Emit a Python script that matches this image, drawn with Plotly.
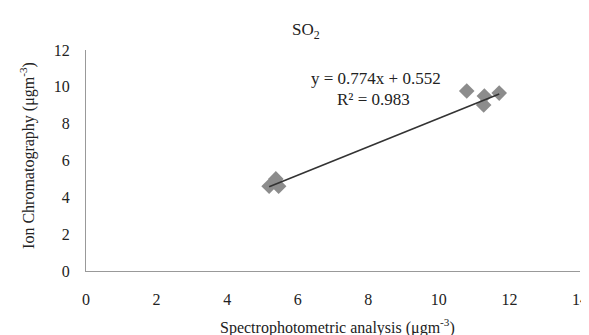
import numpy as np
import plotly.graph_objects as go

# Data
spectro_x = [5.19, 5.38, 5.46, 10.79, 11.27, 11.29, 11.71]
ion_y = [4.6, 5.0, 4.6, 9.77, 9.01, 9.5, 9.66]
slope = 0.774
intercept = 0.552
r_squared = 0.983

x_ticks = [0, 2, 4, 6, 8, 10, 12, 14]
y_ticks = [0, 2, 4, 6, 8, 10, 12]

FONT = "Liberation Serif"
TXT = "#222222"

fig = go.Figure()

fig.add_trace(go.Scatter(
    x=spectro_x, y=ion_y, mode="markers",
    marker=dict(symbol="diamond", size=12, color="#8c8c8c"),
    showlegend=False, hoverinfo="x+y"))

xl = np.array([min(spectro_x), max(spectro_x)])
fig.add_trace(go.Scatter(
    x=xl, y=slope * xl + intercept, mode="lines",
    line=dict(color="#333333", width=1.6), showlegend=False, hoverinfo="skip"))

fig.update_layout(
    width=589, height=335,
    margin=dict(l=78, r=9, t=42, b=72),
    paper_bgcolor="white", plot_bgcolor="white",
    font=dict(family=FONT, size=16, color=TXT),
    xaxis=dict(range=[0, 14], tickvals=x_ticks, showgrid=False, zeroline=False,
               showline=True, linecolor="#999999", linewidth=1, ticks="",
               ticklabelstandoff=14, tickfont=dict(size=16, family=FONT, color=TXT)),
    yaxis=dict(range=[0, 12], tickvals=y_ticks, showgrid=False, zeroline=False,
               showline=True, linecolor="#999999", linewidth=1, ticks="",
               ticklabelstandoff=12, tickfont=dict(size=16, family=FONT, color=TXT)),
    annotations=[
        dict(text="SO<sub>2</sub>", xref="paper", yref="paper", x=0.446, y=1.086,
             showarrow=False, font=dict(size=17, family=FONT, color=TXT),
             xanchor="center", yanchor="middle"),
        dict(text="Spectrophotometric analysis (μgm<sup>-3</sup>)", xref="paper", yref="paper",
             x=0.51, y=-0.25, showarrow=False, xanchor="center", yanchor="middle",
             font=dict(size=16, family=FONT, color=TXT)),
        dict(text="Ion Chromatography (μgm<sup>-3</sup>)", xref="paper", yref="paper",
             x=-0.1175, y=0.525, showarrow=False, textangle=-90, xanchor="center", yanchor="middle",
             font=dict(size=16, family=FONT, color=TXT)),
        dict(text=f"y = {slope}x + {intercept}", xref="paper", yref="paper",
             x=0.588, y=0.873, showarrow=False, xanchor="center", yanchor="middle",
             font=dict(size=17, family=FONT, color=TXT)),
        dict(text=f"R² = {r_squared}", xref="paper", yref="paper",
             x=0.582, y=0.774, showarrow=False, xanchor="center", yanchor="middle",
             font=dict(size=17, family=FONT, color=TXT)),
    ],
)

fig.write_html("out.html")
